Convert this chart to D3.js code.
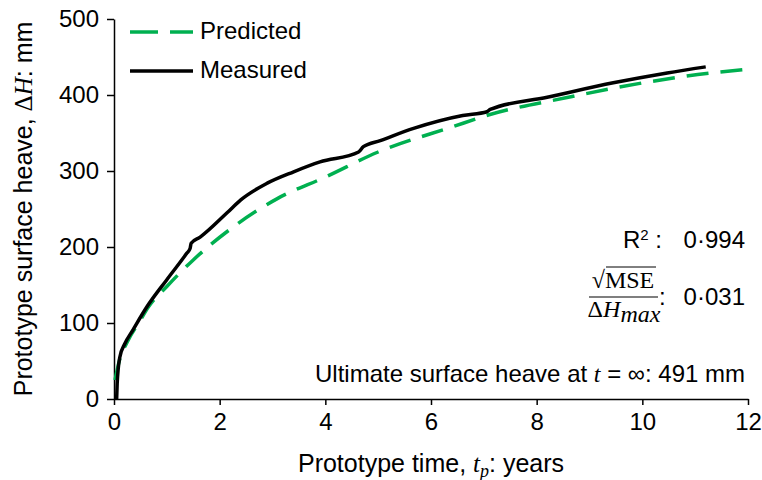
<!DOCTYPE html>
<html>
<head>
<meta charset="utf-8">
<script src="https://cdn.jsdelivr.net/npm/d3@7"></script>
<style>
  body { margin: 0; background: #fff; }
  svg text { font-family: "Liberation Sans", Arial, sans-serif; fill: #000; }
  .math { font-family: "Liberation Serif", "Times New Roman", serif; font-style: italic; }
  .serif { font-family: "Liberation Serif", "Times New Roman", serif; }
</style>
</head>
<body>
<div id="chart"></div>
<script>
// data
var predT = [0.02, 0.1, 0.25, 0.5, 0.65, 1.0, 1.5, 2.25, 3.1, 4.0, 5.0, 6.4, 7.1, 8.6, 10.1, 11.3, 12];
var predH = [25, 50, 75, 104, 121, 148, 183, 226, 264, 292, 325, 358, 374, 397, 417, 429, 434];

var measT = [0.05, 0.06, 0.08, 0.11, 0.2, 0.36, 0.62, 1.0, 1.38, 1.44, 1.46, 1.63, 2.14, 2.4, 2.9, 3.4, 3.9, 4.63, 4.72, 5.04, 5.67, 6.6, 7.06, 7.12, 8.2, 9.45, 10.47, 11.2];
var measH = [0, 20, 40, 55, 72, 91, 121, 157, 192, 198, 205, 213, 245, 262, 284, 299, 312, 325, 332, 340, 356, 373, 378, 381, 397, 416, 429, 437];

var xTicks = [0, 2, 4, 6, 8, 10, 12];
var yTicks = [0, 100, 200, 300, 400, 500];

var width = 762, height = 480;
var margin = {left: 114, right: 14, top: 19, bottom: 81};

var svg = d3.select("#chart").append("svg")
  .attr("width", width)
  .attr("height", height);

var x = d3.scaleLinear().domain([0, 12]).range([margin.left, width - margin.right]);
var y = d3.scaleLinear().domain([0, 500]).range([height - margin.bottom, margin.top]);

//axes
var xAxis = svg.append("g")
  .attr("transform", "translate(0," + y(0) + ")")
  .call(d3.axisBottom(x).tickValues(xTicks).tickSize(6).tickPadding(8).tickSizeOuter(0));
var yAxis = svg.append("g")
  .attr("transform", "translate(" + x(0) + ",0)")
  .call(d3.axisLeft(y).tickValues(yTicks).tickSize(7).tickPadding(8).tickSizeOuter(0));

[xAxis, yAxis].forEach(function(ax) {
  ax.select(".domain").attr("stroke", "#000").attr("stroke-width", 1.5);
  ax.selectAll(".tick line").attr("stroke", "#000").attr("stroke-width", 1.5);
  ax.selectAll(".tick text")
    .style("font-family", "'Liberation Sans', Arial, sans-serif")
    .style("font-size", "24px");
});
xAxis.selectAll(".tick text").attr("dy", "0.71em");

//lines
var predicted = predT.map(function(t, i) { return {t: t, h: predH[i]}; });
var measured = measT.map(function(t, i) { return {t: t, h: measH[i]}; });

var line = d3.line()
  .x(function(d) { return x(d.t); })
  .y(function(d) { return y(d.h); })
  .curve(d3.curveMonotoneX);

svg.append("path")
  .datum(predicted)
  .attr("fill", "none")
  .attr("stroke", "#00B050")
  .attr("stroke-width", 3.5)
  .attr("stroke-dasharray", "22,12")
  .attr("d", line);

svg.append("path")
  .datum(measured)
  .attr("fill", "none")
  .attr("stroke", "#000")
  .attr("stroke-width", 3.5)
  .attr("stroke-linejoin", "round")
  .attr("d", line);

//legend
var legend = svg.append("g");
legend.append("line")
  .attr("x1", 130).attr("x2", 193).attr("y1", 32).attr("y2", 32)
  .attr("stroke", "#00B050").attr("stroke-width", 3.5)
  .attr("stroke-dasharray", "28,12");
legend.append("text").attr("x", 200).attr("y", 39)
  .style("font-size", "24px").text("Predicted");
legend.append("line")
  .attr("x1", 130).attr("x2", 193).attr("y1", 71).attr("y2", 71)
  .attr("stroke", "#000").attr("stroke-width", 3.5);
legend.append("text").attr("x", 200).attr("y", 78)
  .style("font-size", "24px").text("Measured");

//axis titles
var xt = svg.append("text")
  .attr("x", x(6)).attr("y", 472)
  .attr("text-anchor", "middle")
  .style("font-size", "25px");
xt.append("tspan").text("Prototype time, ");
xt.append("tspan").attr("class", "math").text("t");
xt.append("tspan").attr("class", "math").attr("dy", 5).style("font-size", "18px").text("p");
xt.append("tspan").attr("dy", -5).text(": years");

var yt = svg.append("text")
  .attr("transform", "translate(32," + y(250) + ") rotate(-90)")
  .attr("text-anchor", "middle")
  .style("font-size", "25px");
yt.append("tspan").text("Prototype surface heave, ");
yt.append("tspan").attr("class", "serif").text("Δ");
yt.append("tspan").attr("class", "math").text("H");
yt.append("tspan").text(": mm");

//fit statistics
var r2 = svg.append("text").attr("x", 662).attr("y", 248)
  .attr("text-anchor", "end").style("font-size", "24px");
r2.append("tspan").text("R");
r2.append("tspan").attr("dy", -8).style("font-size", "15px").text("2");
r2.append("tspan").attr("dy", 8).text(" :");
svg.append("text").attr("x", 745).attr("y", 248)
  .attr("text-anchor", "end").style("font-size", "24px").text("0·994");

svg.append("text").attr("class", "serif").attr("x", 623).attr("y", 288)
  .attr("text-anchor", "middle").style("font-size", "24px").text("√MSE");
svg.append("line").attr("x1", 589).attr("x2", 658).attr("y1", 297).attr("y2", 297)
  .attr("stroke", "#000").attr("stroke-width", 1.2);
svg.append("line").attr("x1", 606).attr("x2", 656).attr("y1", 267).attr("y2", 267)
  .attr("stroke", "#000").attr("stroke-width", 1);
var den = svg.append("text").attr("x", 624).attr("y", 317)
  .attr("text-anchor", "middle").style("font-size", "24px");
den.append("tspan").attr("class", "serif").text("Δ");
den.append("tspan").attr("class", "math").text("H");
den.append("tspan").attr("class", "math").attr("dy", 5).text("max");
svg.append("text").attr("x", 659).attr("y", 305).style("font-size", "24px").text(":");
svg.append("text").attr("x", 745).attr("y", 305)
  .attr("text-anchor", "end").style("font-size", "24px").text("0·031");

var ult = svg.append("text").attr("x", 745).attr("y", 382)
  .attr("text-anchor", "end").style("font-size", "24px");
ult.append("tspan").text("Ultimate surface heave at ");
ult.append("tspan").attr("class", "math").text("t");
ult.append("tspan").text(" = ∞: 491 mm");
</script>
</body>
</html>
